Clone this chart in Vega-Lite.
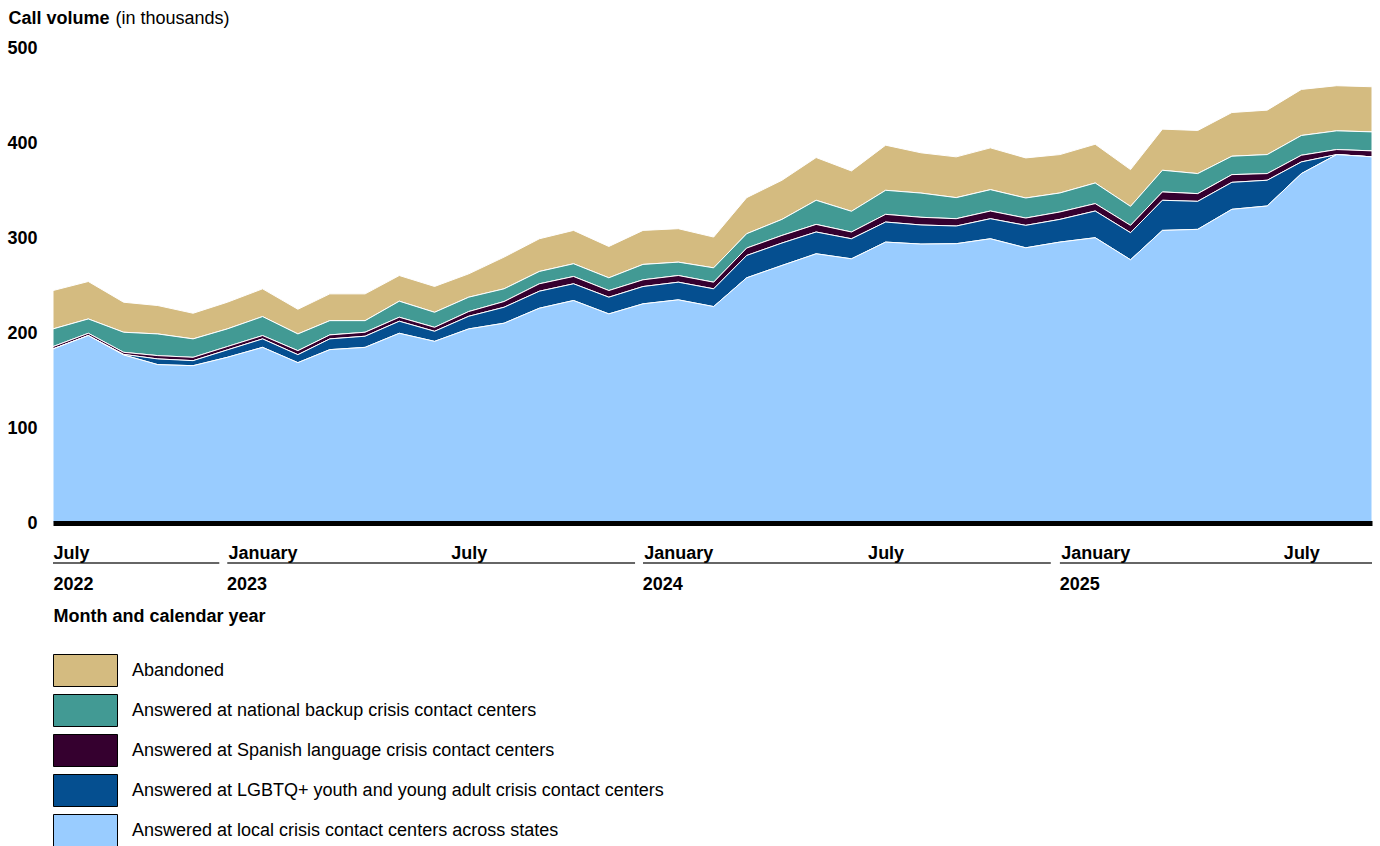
{
  "$schema": "https://vega.github.io/schema/vega-lite/v6.json",
  "width": 1319,
  "height": 475,
  "autosize": {"type": "none"},
  "padding": {"left": 53, "top": 48, "right": 8, "bottom": 323},
  "background": "white",
  "config": {"view": {"stroke": null}, "font": "Liberation Sans", "axis": {"grid": false}},
  "layer": [
    {
      "data": {"values": [
        {"month": "2022-07-01", "local": 183.2, "lgbtq": 0, "spanish": 2.5, "national": 18.6, "abandoned": 40.4},
        {"month": "2022-08-01", "local": 197.3, "lgbtq": 0, "spanish": 2.4, "national": 15.1, "abandoned": 39.4},
        {"month": "2022-09-01", "local": 176.9, "lgbtq": 0.6, "spanish": 2.2, "national": 21.1, "abandoned": 31.6},
        {"month": "2022-10-01", "local": 166.7, "lgbtq": 6.0, "spanish": 3.5, "national": 22.8, "abandoned": 29.9},
        {"month": "2022-11-01", "local": 165.6, "lgbtq": 5.3, "spanish": 3.5, "national": 19.4, "abandoned": 27.0},
        {"month": "2022-12-01", "local": 174.4, "lgbtq": 7.8, "spanish": 3.5, "national": 18.6, "abandoned": 28.1},
        {"month": "2023-01-01", "local": 184.9, "lgbtq": 8.9, "spanish": 3.5, "national": 20.0, "abandoned": 29.2},
        {"month": "2023-02-01", "local": 168.8, "lgbtq": 8.4, "spanish": 4.2, "national": 17.6, "abandoned": 26.0},
        {"month": "2023-03-01", "local": 182.5, "lgbtq": 11.3, "spanish": 4.2, "national": 15.0, "abandoned": 28.2},
        {"month": "2023-04-01", "local": 184.9, "lgbtq": 11.7, "spanish": 4.2, "national": 12.2, "abandoned": 28.2},
        {"month": "2023-05-01", "local": 199.7, "lgbtq": 12.7, "spanish": 4.2, "national": 16.9, "abandoned": 27.0},
        {"month": "2023-06-01", "local": 191.2, "lgbtq": 10.6, "spanish": 4.2, "national": 15.8, "abandoned": 27.2},
        {"month": "2023-07-01", "local": 204.3, "lgbtq": 13.3, "spanish": 5.0, "national": 15.1, "abandoned": 24.6},
        {"month": "2023-08-01", "local": 210.3, "lgbtq": 16.8, "spanish": 6.0, "national": 13.4, "abandoned": 33.4},
        {"month": "2023-09-01", "local": 226.1, "lgbtq": 17.9, "spanish": 7.8, "national": 13.0, "abandoned": 34.4},
        {"month": "2023-10-01", "local": 234.2, "lgbtq": 17.6, "spanish": 7.7, "national": 13.4, "abandoned": 35.1},
        {"month": "2023-11-01", "local": 220.1, "lgbtq": 17.6, "spanish": 7.0, "national": 13.4, "abandoned": 33.0},
        {"month": "2023-12-01", "local": 230.7, "lgbtq": 18.2, "spanish": 7.1, "national": 16.2, "abandoned": 35.8},
        {"month": "2024-01-01", "local": 234.9, "lgbtq": 18.6, "spanish": 7.0, "national": 14.1, "abandoned": 35.2},
        {"month": "2024-02-01", "local": 227.8, "lgbtq": 18.7, "spanish": 7.0, "national": 15.1, "abandoned": 32.4},
        {"month": "2024-03-01", "local": 258.1, "lgbtq": 23.5, "spanish": 7.8, "national": 15.1, "abandoned": 38.0},
        {"month": "2024-04-01", "local": 271.1, "lgbtq": 23.6, "spanish": 8.0, "national": 16.9, "abandoned": 41.2},
        {"month": "2024-05-01", "local": 283.4, "lgbtq": 22.9, "spanish": 8.0, "national": 25.4, "abandoned": 45.0},
        {"month": "2024-06-01", "local": 278.1, "lgbtq": 21.1, "spanish": 7.1, "national": 21.8, "abandoned": 42.5},
        {"month": "2024-07-01", "local": 295.7, "lgbtq": 21.1, "spanish": 8.1, "national": 25.3, "abandoned": 47.5},
        {"month": "2024-08-01", "local": 293.6, "lgbtq": 20.1, "spanish": 8.1, "national": 25.5, "abandoned": 42.4},
        {"month": "2024-09-01", "local": 294.0, "lgbtq": 18.6, "spanish": 7.7, "national": 22.2, "abandoned": 42.9},
        {"month": "2024-10-01", "local": 299.2, "lgbtq": 21.1, "spanish": 8.1, "national": 22.5, "abandoned": 44.0},
        {"month": "2024-11-01", "local": 289.7, "lgbtq": 23.6, "spanish": 7.7, "national": 21.1, "abandoned": 42.2},
        {"month": "2024-12-01", "local": 295.7, "lgbtq": 23.9, "spanish": 7.8, "national": 20.0, "abandoned": 40.4},
        {"month": "2025-01-01", "local": 300.3, "lgbtq": 28.1, "spanish": 7.8, "national": 21.7, "abandoned": 40.8},
        {"month": "2025-02-01", "local": 277.1, "lgbtq": 28.5, "spanish": 7.7, "national": 20.0, "abandoned": 38.7},
        {"month": "2025-03-01", "local": 308.0, "lgbtq": 31.7, "spanish": 8.8, "national": 22.8, "abandoned": 43.3},
        {"month": "2025-04-01", "local": 309.1, "lgbtq": 29.5, "spanish": 8.1, "national": 21.1, "abandoned": 45.4},
        {"month": "2025-05-01", "local": 330.2, "lgbtq": 28.4, "spanish": 8.1, "national": 19.4, "abandoned": 46.0},
        {"month": "2025-06-01", "local": 333.7, "lgbtq": 27.1, "spanish": 7.0, "national": 20.0, "abandoned": 46.8},
        {"month": "2025-07-01", "local": 367.8, "lgbtq": 12.3, "spanish": 7.0, "national": 20.8, "abandoned": 48.5},
        {"month": "2025-08-01", "local": 387.8, "lgbtq": 0, "spanish": 5.3, "national": 19.7, "abandoned": 47.5},
        {"month": "2025-09-01", "local": 385.4, "lgbtq": 0, "spanish": 6.3, "national": 20.0, "abandoned": 47.5}
      ]},
      "transform": [
        {"fold": ["abandoned", "national", "spanish", "lgbtq", "local"], "as": ["series", "calls"]},
        {"calculate": "indexof(['abandoned','national','spanish','lgbtq','local'], datum.series)", "as": "stackOrder"}
      ],
      "mark": {"type": "area", "stroke": "white", "strokeWidth": 1, "opacity": 1},
      "encoding": {
        "x": {
          "field": "month", "type": "temporal",
          "scale": {"type": "utc", "domain": [{"year": 2022, "month": 7, "date": 1, "utc": true}, {"year": 2025, "month": 9, "date": 1, "utc": true}]},
          "axis": {
            "orient": "bottom",
            "values": [
              {"year": 2022, "month": 7, "date": 1, "utc": true},
              {"year": 2023, "month": 1, "date": 1, "utc": true},
              {"year": 2023, "month": 7, "date": 1, "utc": true},
              {"year": 2024, "month": 1, "date": 1, "utc": true},
              {"year": 2024, "month": 7, "date": 1, "utc": true},
              {"year": 2025, "month": 1, "date": 1, "utc": true},
              {"year": 2025, "month": 7, "date": 1, "utc": true}
            ],
            "format": "%B",
            "labelFont": "Liberation Sans",
            "labelFontSize": 18,
            "labelFontWeight": "bold",
            "labelColor": "black",
            "labelBaseline": "alphabetic",
            "labelPadding": 35,
            "labelFlush": true,
            "labelOverlap": false,
            "ticks": false,
            "domain": true,
            "domainColor": "black",
            "domainWidth": 5,
            "grid": false,
            "title": null,
            "zindex": 1
          }
        },
        "y": {
          "field": "calls", "type": "quantitative", "stack": "zero",
          "scale": {"domain": [0, 500], "nice": false},
          "axis": {
            "orient": "left",
            "values": [0, 100, 200, 300, 400, 500],
            "labelFont": "Liberation Sans",
            "labelFontSize": 18,
            "labelFontWeight": "bold",
            "labelColor": "black",
            "labelPadding": 16,
            "ticks": false,
            "domain": false,
            "grid": false,
            "title": "Call volume",
            "titleFont": "Liberation Sans",
            "titleFontSize": 18,
            "titleFontWeight": "bold",
            "titleColor": "black",
            "titleAngle": 0,
            "titleAlign": "left",
            "titleBaseline": "alphabetic",
            "titleX": -45,
            "titleY": -24.5
          }
        },
        "color": {
          "field": "series", "type": "nominal",
          "scale": {
            "domain": ["abandoned", "national", "spanish", "lgbtq", "local"],
            "range": ["#D4BB80", "#429A94", "#35002F", "#054F90", "#99CCFF"]
          },
          "legend": {
            "orient": "none",
            "legendX": 16,
            "legendY": 606,
            "title": null,
            "direction": "vertical",
            "symbolType": "M-2,-1H2V1H-2Z",
            "symbolSize": 1024,
            "symbolStrokeColor": "black",
            "symbolStrokeWidth": 1,
            "symbolOpacity": 1,
            "labelFont": "Liberation Sans",
            "labelFontSize": 18,
            "labelColor": "black",
            "labelOffset": 30,
            "labelLimit": 0,
            "rowPadding": 3,
            "labelExpr": "datum.label == 'abandoned' ? 'Abandoned' : datum.label == 'national' ? 'Answered at national backup crisis contact centers' : datum.label == 'spanish' ? 'Answered at Spanish language crisis contact centers' : datum.label == 'lgbtq' ? 'Answered at LGBTQ+ youth and young adult crisis contact centers' : 'Answered at local crisis contact centers across states'",
            "encode": {"symbols": {"update": {"stroke": {"value": "black"}, "strokeWidth": {"value": 1}, "opacity": {"value": 1}}}}
          }
        },
        "order": {"field": "stackOrder", "type": "quantitative", "sort": "descending"}
      }
    },
    {
      "data": {"values": [
        {"period": "2022", "start": "2022-07-01", "end": "2022-11-24"},
        {"period": "2023", "start": "2022-12-01", "end": "2023-11-24"},
        {"period": "2024", "start": "2023-12-01", "end": "2024-11-23"},
        {"period": "2025", "start": "2024-12-01", "end": "2025-09-01"}
      ]},
      "mark": {"type": "rule", "color": "#333333", "strokeWidth": 1.5},
      "encoding": {
        "x": {
          "field": "start", "type": "temporal",
          "scale": {"type": "utc", "domain": [{"year": 2022, "month": 7, "date": 1, "utc": true}, {"year": 2025, "month": 9, "date": 1, "utc": true}]},
          "axis": {
            "orient": "bottom",
            "values": [
              {"year": 2022, "month": 7, "date": 1, "utc": true},
              {"year": 2023, "month": 1, "date": 1, "utc": true},
              {"year": 2024, "month": 1, "date": 1, "utc": true},
              {"year": 2025, "month": 1, "date": 1, "utc": true}
            ],
            "format": "%Y",
            "labelAlign": "left",
            "labelOffset": {"condition": {"test": "datum.value > utc(2022, 8, 1)", "value": -36}, "value": 0},
            "labelFont": "Liberation Sans",
            "labelFontSize": 18,
            "labelFontWeight": "bold",
            "labelColor": "black",
            "labelBaseline": "alphabetic",
            "labelPadding": 66,
            "labelOverlap": false,
            "ticks": false,
            "domain": false,
            "grid": false,
            "title": "Month and calendar year",
            "titleFont": "Liberation Sans",
            "titleFontSize": 18,
            "titleFontWeight": "bold",
            "titleColor": "black",
            "titleAlign": "left",
            "titleAnchor": "start",
            "titleBaseline": "alphabetic",
            "titleX": 0,
            "titleY": 98
          }
        },
        "x2": {"field": "end"},
        "y": {
          "datum": -42, "type": "quantitative",
          "scale": {"domain": [0, 500], "nice": false},
          "axis": {
            "orient": "left",
            "labels": false,
            "ticks": false,
            "domain": false,
            "grid": false,
            "title": "(in thousands)",
            "titleFont": "Liberation Sans",
            "titleFontSize": 18,
            "titleFontWeight": "normal",
            "titleColor": "black",
            "titleAngle": 0,
            "titleAlign": "left",
            "titleBaseline": "alphabetic",
            "titleX": 62,
            "titleY": -24.5
          }
        }
      }
    }
  ],
  "resolve": {"axis": {"x": "independent", "y": "independent"}}
}
